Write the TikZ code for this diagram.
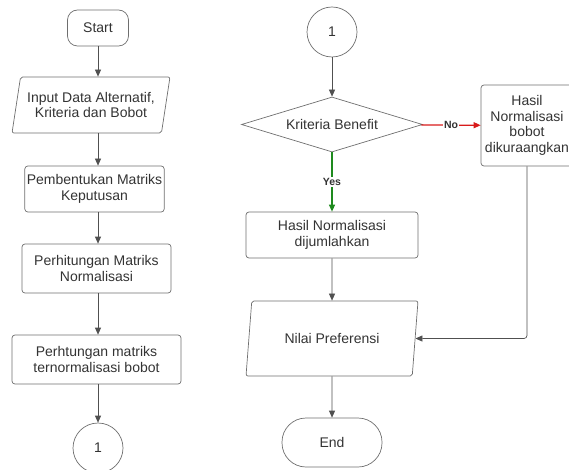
\documentclass[tikz,border=0pt]{standalone}
\usepackage{fontspec}
\setmainfont{Liberation Sans}
\usepackage{xcolor}
\usetikzlibrary{calc, arrows.meta, shapes, shapes.geometric, positioning}

\definecolor{linegray}{HTML}{505050}
\definecolor{boxgray}{HTML}{6E6E6E}
\definecolor{txtgray}{HTML}{333333}
\definecolor{nored}{HTML}{D81B1B}
\definecolor{yesgreen}{HTML}{1E8A1E}

\tikzset{
  base/.style={draw=boxgray, line width=0.7pt, text=txtgray, align=center,
    font=\fontsize{14}{15.5}\selectfont, inner sep=2pt},
  term/.style={base, rectangle, rounded corners=10pt},
  proc/.style={base, rectangle, rounded corners=3pt},
  io/.style={base, trapezium, trapezium left angle=75, trapezium right angle=105,
    trapezium stretches=true, rounded corners=2pt},
  cond/.style={base, diamond, aspect=3.3},
  conn/.style={base, circle, minimum size=50pt},
  flow/.style={draw=linegray, line width=0.7pt, -{Triangle[length=7pt,width=6pt]}},
  tag/.style={font=\bfseries\fontsize{10.5}{12}\selectfont, fill=white, inner sep=1pt}
}

\begin{document}
\begin{tikzpicture}[x=1pt, y=-1pt]
      \useasboundingbox (0,0) rectangle (569,470);
      \clip (0,0) rectangle (569,470);

      \node[term, minimum width=61pt, minimum height=36pt] (start) at (98,28) {Start};
      \node[io, minimum width=158pt, minimum height=56pt] (input) at (91,105)
        {Input Data Alternatif,\\Kriteria dan Bobot};
      \node[proc, minimum width=139pt, minimum height=46pt] (build) at (94.5,189)
        {Pembentukan Matriks\\Keputusan};
      \node[proc, minimum width=149pt, minimum height=49pt] (norm) at (96.5,268.5)
        {Perhitungan Matriks\\Normalisasi};
      \node[proc, minimum width=169pt, minimum height=49pt] (weight) at (96.5,359.5)
        {Perhtungan matriks\\ternormalisasi bobot};
      \node[conn] (conA) at (98,448) {1};

      \node[conn] (conB) at (332,32) {1};
      \node[cond, minimum width=181pt, minimum height=55pt] (crit) at (332,124.5)
        {Kriteria Benefit};
      \node[proc, minimum width=172pt, minimum height=46pt] (sum) at (332,235)
        {Hasil Normalisasi\\dijumlahkan};
      \node[io, trapezium left angle=76, trapezium right angle=104,
        minimum width=172pt, minimum height=75pt] (pref) at (332,338.5) {Nilai Preferensi};
      \node[term, rounded corners=24pt, minimum width=100pt, minimum height=49pt] (stop)
        at (332,442.5) {End};
      \node[proc, minimum width=92pt, minimum height=81pt] (minus) at (527,125.5)
        {Hasil\\Normalisasi\\bobot\\dikuraangkan};

      \draw[flow] (start) -- (start |- input.north);
      \draw[flow] (start |- input.south) -- (start |- build.north);
      \draw[flow] (start |- build.south) -- (start |- norm.north);
      \draw[flow] (start |- norm.south) -- (start |- weight.north);
      \draw[flow] (start |- weight.south) -- (conA);

      \draw[flow] (conB) -- (crit);
      \draw[flow, draw=yesgreen, line width=1.2pt] (crit) -- node[tag, text=txtgray] {Yes} (sum);
      \draw[flow, draw=nored, line width=1.2pt] (crit) -- node[tag, text=txtgray, pos=0.5] {No} (minus);
      \draw[flow] (sum) -- (pref);
      \draw[flow] (pref) -- (stop);
      \draw[flow, rounded corners=3pt] (minus.south) |- (pref.east);
\end{tikzpicture}
\end{document}
